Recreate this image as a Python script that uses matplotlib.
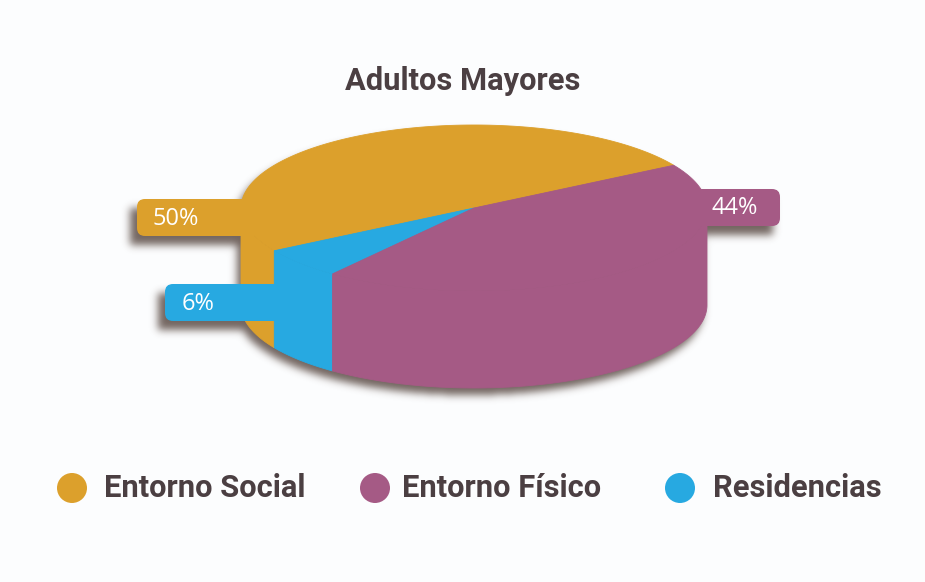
"""
    3D style pie chart: Adultos Mayores
"""

import numpy as np
import matplotlib
matplotlib.use('Agg')
import matplotlib.pyplot as plt
from matplotlib.colors import to_rgb
from matplotlib.patches import Polygon, FancyBboxPatch, Circle
from matplotlib.path import Path

# chart data
title = "Adultos Mayores"
categories = ["Entorno Social", "Residencias", "Entorno Físico"]
values = [50, 6, 44]
colors = ['#dca02c', '#27a9e1', '#a55a85']

# legend order differs from slice order
legend_order = ["Entorno Social", "Entorno Físico", "Residencias"]

# layout in image pixels
width, height = 925, 582
cx, cy = 474, 208
rx, ry = 233, 83
depth = 97
start_angle = 31
text_color = '#4b3f42'
background = '#fcfdfe'
shadow_color = '#3d2a22'


def ellipse_points(t0, t1, dy=0):
    """ points along the ellipse between two angles in degrees """
    t = np.radians(np.linspace(t0, t1, 200))
    return np.column_stack((cx + rx * np.cos(t), cy + dy - ry * np.sin(t)))


def blur(mask, sigma):
    """ gaussian blur, one axis at a time """
    x = np.arange(-3 * int(sigma) - 1, 3 * int(sigma) + 2)
    kernel = np.exp(-x ** 2 / (2 * sigma ** 2))
    kernel = kernel / kernel.sum()
    mask = np.apply_along_axis(lambda r: np.convolve(r, kernel, mode='same'), 0, mask)
    return np.apply_along_axis(lambda r: np.convolve(r, kernel, mode='same'), 1, mask)


def make_tab(x0, y0, x1, y1):
    """ rounded label tab that sticks out of the pie """
    return FancyBboxPatch((x0 + 8, y0 + 8), x1 - x0 - 16, y1 - y0 - 16,
                          boxstyle="round,pad=8,rounding_size=8")


fig = plt.figure(figsize=(9.25, 5.82), dpi=100, facecolor=background)
ax = fig.add_axes([0, 0, 1, 1])

# tabs: slice name -> box, label position
tabs = {
    "Entorno Social": (137, 199, 262, 236, 152, 219),
    "Residencias": (165, 284, 290, 321, 182, 304),
    "Entorno Físico": (680, 189, 780, 226, 712, 208),
}

# shadow layer, silhouette of pie and tabs blurred and shifted
xx, yy = np.meshgrid(np.arange(width) + 0.5, np.arange(height) + 0.5)
grid = np.column_stack((xx.ravel(), yy.ravel()))
outline = np.vstack((ellipse_points(0, 180), ellipse_points(180, 360, depth)))
mask = Path(np.vstack((outline, outline[0]))).contains_points(grid).reshape(xx.shape).astype(float)
for name in categories:
    x0, y0, x1, y1, _, _ = tabs[name]
    # tabs throw a wider shadow to the left
    inside = (xx > x0 - 3) & (xx < x1 - 3) & (yy > y0 + 2) & (yy < y1 + 2)
    mask[inside] = 1
shift_x, shift_y = -4, 7
mask = np.roll(np.roll(mask, shift_y, axis=0), shift_x, axis=1)
shadow = np.zeros((height, width, 4))
shadow[..., :3] = to_rgb(shadow_color)
shadow[..., 3] = blur(mask, 4) * 0.72
ax.imshow(shadow, extent=(0, width, height, 0), zorder=1, interpolation='bilinear')

ax.set_xlim(0, width)
ax.set_ylim(height, 0)
ax.axis('off')

# tabs of social and fisico are below the pie faces
for name, color in zip(categories, colors):
    if name != "Residencias":
        x0, y0, x1, y1, _, _ = tabs[name]
        tab = make_tab(x0, y0, x1, y1)
        tab.set(facecolor=color, edgecolor='none', zorder=2)
        ax.add_patch(tab)

# slices, angles come from the values
fractions = np.array(values) / np.sum(values) * 360
ends = start_angle + np.cumsum(fractions)
starts = ends - fractions
for name, value, color, t0, t1 in zip(categories, values, colors, starts, ends):
    # side wall, only the front half of the ellipse shows
    w0, w1 = max(t0, 180), min(t1, 360)
    if w1 > w0:
        wall = np.vstack((ellipse_points(w0, w1), ellipse_points(w1, w0, depth)))
        ax.add_patch(Polygon(wall, closed=True, facecolor=color, edgecolor=color, linewidth=0.6, zorder=3))
    # top face
    top = np.vstack(([[cx, cy]], ellipse_points(t0, t1)))
    ax.add_patch(Polygon(top, closed=True, facecolor=color, edgecolor=color, linewidth=0.6, zorder=4))

# residencias tab sits over the yellow wall
x0, y0, x1, y1, _, _ = tabs["Residencias"]
tab = make_tab(x0, y0, x1, y1)
tab.set(facecolor=colors[1], edgecolor='none', zorder=5)
ax.add_patch(tab)

# percent labels
for name, value in zip(categories, values):
    _, _, _, _, tx, ty = tabs[name]
    ax.text(tx, ty, f"{value}%", color='white', fontsize=17, family='Open Sans',
            ha='left', va='center', zorder=6)

ax.text(462.5, 81, title, color=text_color, fontsize=22.2, family='Roboto', fontweight='bold',
        ha='center', va='center')

# legend
legend_x = {"Entorno Social": (72, 104), "Entorno Físico": (375, 402), "Residencias": (680, 713)}
for name in legend_order:
    marker_x, text_x = legend_x[name]
    color = colors[categories.index(name)]
    ax.add_patch(Circle((marker_x, 488), 15, facecolor=color, edgecolor='none'))
    ax.text(text_x, 488, name, color=text_color, fontsize=22.2, family='Roboto', fontweight='bold',
            ha='left', va='center')

fig.savefig('out.png', dpi=100, facecolor=background)
